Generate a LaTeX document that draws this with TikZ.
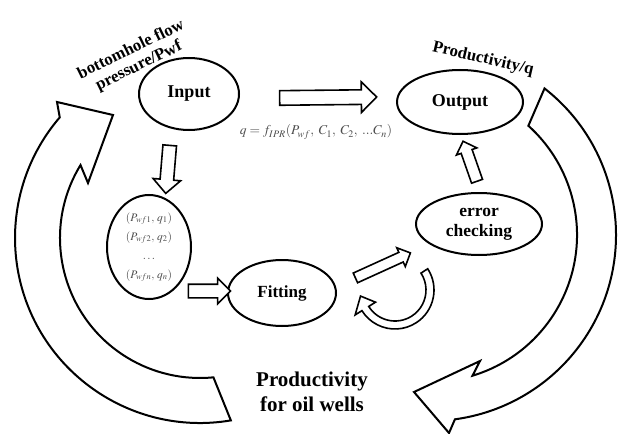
\documentclass[tikz,border=0pt]{standalone}
\usepackage{mathptmx}
\usepackage[no-math]{fontspec}
\setmainfont{Liberation Serif}
\usetikzlibrary{shapes.geometric,shapes.arrows,calc}

\definecolor{mathgray}{gray}{0.3}

% hollow block arrow between two named points: from, to, half shaft, head extend
\newcommand{\blockarrow}[4]{%
  \path let \p1=($(#2)-(#1)$), \n1={atan2(\y1,\x1)}, \n2={veclen(\x1,\y1)} in
    node[hollowarrow, inner ysep=#3, single arrow head extend=#4,
      rotate=\n1, minimum height=\n2] at ($(#1)!0.5!(#2)$) {};}

\begin{document}
\begin{tikzpicture}[x=1pt, y=-1pt,
    oval/.style={ellipse, draw, line width=2pt, inner sep=0pt, align=center,
      font=\fontsize{18}{20}\selectfont\bfseries},
    hollowarrow/.style={single arrow, draw, line width=1.6pt, fill=white,
      inner xsep=0pt, minimum width=0pt, single arrow tip angle=90},
    bigarrow/.style={draw, line width=2pt, line join=miter, fill=white},
    lab/.style={align=center, font=\fontsize{16.8}{18}\selectfont\bfseries},
    eq/.style={text=mathgray, font=\fontsize{13.5}{15}\selectfont}]
  \useasboundingbox (0,0) rectangle (620,433);

  % big loop arrows
  \coordinate (cl) at (200,238);
  \coordinate (cr) at (430,235);
  \draw[bigarrow] ($(cl)+(80.4:185)$) arc[start angle=80.4, end angle=220.7, radius=185]
    -- (57,102) -- (113,115) -- (88,183) -- ($(cl)+(211.4:140)$)
    arc[start angle=211.4, end angle=84.5, radius=140] -- cycle;
  \draw[bigarrow] ($(cr)+(-52:186)$) arc[start angle=-52, end angle=82.3, radius=186]
    -- (449,433) -- (414,392) -- (480,361) -- ($(cr)+(73.2:147)$)
    arc[start angle=73.2, end angle=-48, radius=147] -- cycle;

  % small return arrow
  \coordinate (cc) at (395,290);
  \draw[bigarrow, line width=1.6pt] ($(cc)+(-33:39)$) arc[start angle=-33, end angle=148, radius=39]
    -- ($(cc)+(148:47)$) -- ($(cc)+(170:35)$) -- ($(cc)+(148:23)$) -- ($(cc)+(148:31)$)
    arc[start angle=148, end angle=-33, radius=31] -- cycle;

  % boxes
  \node[oval, minimum width=100, minimum height=72] (input) at (189,94) {Input};
  \node[oval, minimum width=126, minimum height=64] (output) at (460,102) {Output};
  \node[oval, minimum width=126, minimum height=62,
    font=\fontsize{17.5}{20}\selectfont\bfseries] (check) at (479,224) {error\\checking};
  \node[oval, minimum width=108, minimum height=66,
    font=\fontsize{17}{20}\selectfont\bfseries] (fit) at (282,293) {Fitting};
  \node[oval, minimum width=84, minimum height=104, text=mathgray,
    font=\fontsize{11.5}{19}\selectfont] (data) at (149,247)
    {$(P_{wf1},\,q_1)$\\$(P_{wf2},\,q_2)$\\$\dots$\\$(P_{wfn},\,q_n)$};

  % labels
  \node[lab, rotate=26] (pwf) at (135,58) {bottomhole flow\\pressure/Pwf};
  \node[lab, rotate=-13] (prodq) at (483,59) {Productivity/q};
  \node[lab, font=\fontsize{21}{25}\selectfont\bfseries] (wells) at (312,392)
    {Productivity\\for oil wells};
  \node[eq] (ipr) at (316,132) {$q = f_{IPR}(P_{wf},\;C_1,\;C_2,\;...C_n)$};

  % straight arrows
  \coordinate (in-a) at (170,142);  \coordinate (in-b) at (166,190);
  \coordinate (out-a) at (276,98);  \coordinate (out-b) at (373,97);
  \coordinate (fit-a) at (185,291); \coordinate (fit-b) at (227,291);
  \coordinate (chk-a) at (353,279); \coordinate (chk-b) at (408,254);
  \coordinate (res-a) at (478,184); \coordinate (res-b) at (464,144);
  \blockarrow{in-a}{in-b}{6pt}{7pt}
  \blockarrow{out-a}{out-b}{6.5pt}{8pt}
  \blockarrow{fit-a}{fit-b}{6pt}{6pt}
  \blockarrow{chk-a}{chk-b}{4.5pt}{5pt}
  \blockarrow{res-a}{res-b}{5pt}{5pt}
\end{tikzpicture}
\end{document}
